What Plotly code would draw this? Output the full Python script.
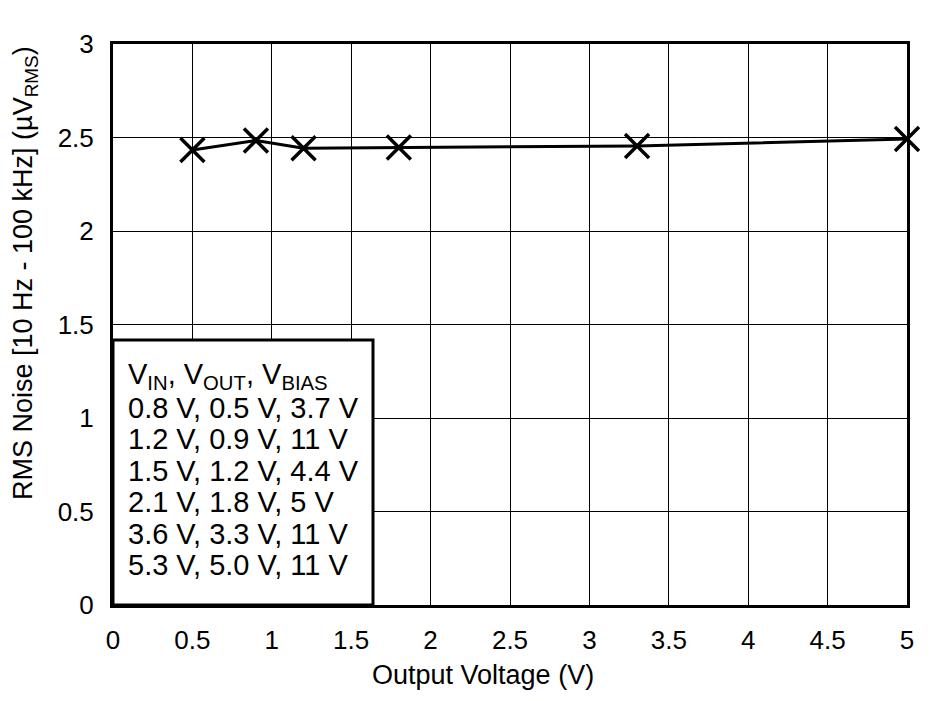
import plotly.graph_objects as go

vout = [0.5, 0.9, 1.2, 1.8, 3.3, 5.0]
noise = [2.433, 2.484, 2.443, 2.447, 2.455, 2.492]

x_ticks = [0, 0.5, 1, 1.5, 2, 2.5, 3, 3.5, 4, 4.5, 5]
x_ticklabels = ["0", "0.5", "1", "1.5", "2", "2.5", "3", "3.5", "4", "4.5", "5"]
y_ticks = [0, 0.5, 1, 1.5, 2, 2.5, 3]
y_ticklabels = ["0", "0.5", "1", "1.5", "2", "2.5", "3"]

x_title = "Output Voltage (V)"
y_title = "RMS Noise [10 Hz - 100 kHz] (µV<sub>RMS</sub>)"

legend_lines = [
    "V<sub>IN</sub>, V<sub>OUT</sub>, V<sub>BIAS</sub>",
    "0.8 V, 0.5 V, 3.7 V",
    "1.2 V, 0.9 V, 11 V",
    "1.5 V, 1.2 V, 4.4 V",
    "2.1 V, 1.8 V, 5 V",
    "3.6 V, 3.3 V, 11 V",
    "5.3 V, 5.0 V, 11 V",
]

FONT = "Liberation Sans, Arial, sans-serif"

fig = go.Figure()
fig.add_trace(go.Scatter(
    x=vout, y=noise, mode="lines+markers",
    line=dict(color="black", width=3),
    marker=dict(symbol="x-thin", size=24, line=dict(color="black", width=3.5), color="black"),
    showlegend=False, cliponaxis=False,
))

W, H = 940, 701
ml, mr, mt, mb = 113, 33, 44, 96
pw, ph = W - ml - mr, H - mt - mb

axis_common = dict(
    showgrid=True, gridcolor="black", gridwidth=1,
    showline=True, linecolor="black", linewidth=3, mirror=True,
    ticks="", zeroline=False,
    tickfont=dict(family=FONT, size=26, color="black"),
)

fig.update_layout(
    width=W, height=H,
    margin=dict(l=ml, r=mr, t=mt, b=mb),
    paper_bgcolor="white", plot_bgcolor="white",
    font=dict(family=FONT, color="black"),
    xaxis=dict(range=[0, 5], tickvals=x_ticks, ticktext=x_ticklabels,
               ticklabelstandoff=10, **axis_common),
    yaxis=dict(range=[0, 3], tickvals=y_ticks, ticktext=y_ticklabels,
               ticklabelstandoff=11, **axis_common),
)

def px_x(p):
    return (p - ml) / pw

def px_y(p):
    return (H - mb - p) / ph

# axis titles
fig.add_annotation(xref="paper", yref="paper", x=px_x(483), y=px_y(675),
                   xanchor="center", yanchor="middle", text=x_title, showarrow=False,
                   font=dict(family=FONT, size=27, color="black"))
fig.add_annotation(xref="paper", yref="paper", x=px_x(25), y=px_y(273),
                   xanchor="center", yanchor="middle", text=y_title, showarrow=False,
                   textangle=-90, font=dict(family=FONT, size=27, color="black"))

# legend box
box_right_px = 373
box_top_px = 340
fig.add_shape(type="rect", xref="paper", yref="paper",
              x0=0, x1=px_x(box_right_px),
              y0=0, y1=px_y(box_top_px),
              line=dict(color="black", width=3), fillcolor="white", layer="above")

first_line_px = 376
spacing_px = 31.5
for i, txt in enumerate(legend_lines):
    ypx = first_line_px + i * spacing_px
    fig.add_annotation(
        xref="paper", yref="paper",
        x=px_x(126), y=px_y(ypx),
        xanchor="left", yanchor="middle",
        text=txt, showarrow=False,
        font=dict(family=FONT, size=29, color="black"),
    )

fig.write_html("out.html")
